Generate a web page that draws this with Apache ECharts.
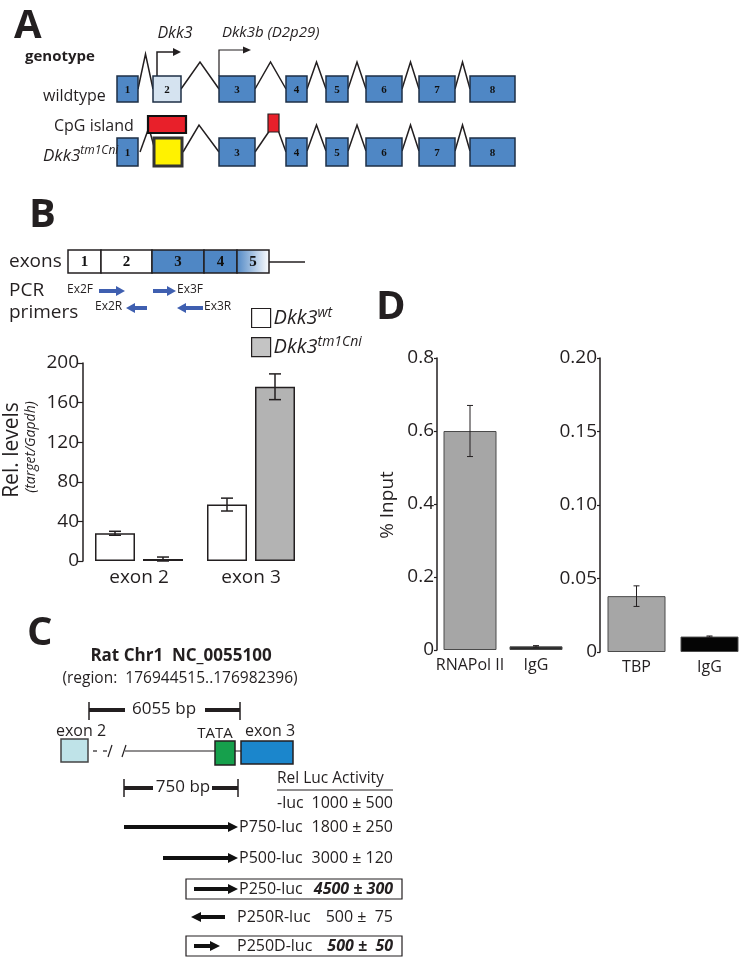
<!DOCTYPE html>
<html>
<head>
<meta charset="utf-8">
<script src="https://cdn.jsdelivr.net/npm/echarts@6/dist/echarts.min.js"></script>
<style>
  html, body { margin: 0; background: #fff; }
  #chart { width: 748px; height: 961px; }
</style>
</head>
<body>
<div id="chart"></div>
<script>
// ---- data ----
const exonCategories = ['exon 2', 'exon 3'];
const wtLevels = [28, 57];
const wtErr = [2, 6.5];
const tmLevels = [2, 176];
const tmErr = [2, 13];

const polCategories = ['RNAPol II', 'IgG'];
const polValues = [0.6, 0.01];
const polErr = [0.07, 0.002];

const tbpCategories = ['TBP', 'IgG'];
const tbpValues = [0.038, 0.0105];
const tbpErr = [0.007, 0.0004];

const geneExons = ['1', '2', '3', '4', '5', '6', '7', '8'];
const lucConstructs = ['-luc', 'P750-luc', 'P500-luc', 'P250-luc', 'P250R-luc', 'P250D-luc'];
const lucActivity = [1000, 1800, 3000, 4500, 500, 500];
const lucSd = [500, 250, 120, 300, 75, 50];

// ---- styles ----
const FONT = '"Open Sans", "Noto Sans", sans-serif';
const SERIF = '"Liberation Serif", "DejaVu Serif", serif';
const ink = '#231f20';
const exonBlue = '#4f87c5';
const exonEdge = '#1e2f45';
const primerBlue = '#3f5fb0';

const myChart = echarts.init(document.getElementById('chart'));
const g = [];

function txt(x, y, text, style, rotation) {
  g.push({
    type: 'text', x: x, y: y, rotation: rotation || 0, z: 20,
    style: Object.assign({ text: text, fontFamily: FONT, fontSize: 16, fill: ink, align: 'left', verticalAlign: 'middle' }, style || {})
  });
}
function box(x, y, w, h, fill, stroke, lw) {
  g.push({ type: 'rect', z: 12, shape: { x: x, y: y, width: w, height: h }, style: { fill: fill, stroke: stroke || ink, lineWidth: lw || 1.5 } });
}
function line(points, lw, color) {
  g.push({ type: 'polyline', z: 10, shape: { points: points }, style: { stroke: color || ink, lineWidth: lw || 1.5, fill: null } });
}
// horizontal arrow from x1 to x2 (head at x2)
function arrow(x1, x2, y, color, shaft, headL, headH) {
  const dir = x2 > x1 ? 1 : -1;
  const hb = x2 - dir * headL;
  g.push({ type: 'rect', z: 12, shape: { x: Math.min(x1, hb), y: y - shaft / 2, width: Math.abs(hb - x1), height: shaft }, style: { fill: color } });
  g.push({ type: 'polygon', z: 12, shape: { points: [[hb, y - headH / 2], [x2, y], [hb, y + headH / 2]] }, style: { fill: color } });
}
const sup = {
  i: { fontFamily: FONT, fontStyle: 'italic', fontSize: 17, fill: ink, lineHeight: 22 },
  s: { fontFamily: FONT, fontStyle: 'italic', fontSize: 12, fill: ink, verticalAlign: 'top', lineHeight: 12 }
};

// ---- panel A: gene structure ----
txt(14, 27, 'A', { fontSize: 40, fontWeight: 'bold' });
txt(25, 57, 'genotype', { fontSize: 15, fontWeight: 'bold' });
txt(175, 33, 'Dkk3', { fontSize: 16, fontStyle: 'italic', align: 'center' });
txt(222, 33, 'Dkk3b (D2p29)', { fontSize: 15, fontStyle: 'italic' });
txt(43, 96, 'wildtype', { fontSize: 16 });
txt(54, 126, 'CpG island', { fontSize: 16 });
txt(43, 156, '{i|Dkk3}{s|tm1Cni}', { rich: sup });

const exonX = [[117, 138], [153, 181], [219, 255], [286, 307], [326, 348], [366, 402], [419, 455], [470, 515]];
const rows = [{ top: 76, h: 26 }, { top: 138, h: 28 }];
exonX.forEach((e, i) => {
  rows.forEach((r, ri) => {
    if (ri === 1 && i === 1) return;
    box(e[0], r.top, e[1] - e[0], r.h, (ri === 0 && i === 1) ? '#d5e3f0' : exonBlue, exonEdge, 1.5);
    txt((e[0] + e[1]) / 2, r.top + r.h / 2 + 1, geneExons[i], { fontFamily: SERIF, fontWeight: 'bold', fontSize: 11, fill: '#111', align: 'center' });
  });
});
// wildtype introns
for (let i = 0; i < 7; i++) {
  const a = exonX[i][1], b = exonX[i + 1][0];
  line([[a, 89], [(a + b) / 2, i === 0 ? 54 : 62], [b, 89]]);
}
// mutant introns
line([[140, 152], [148, 130]]);
line([[150, 132], [155, 150]]);
line([[183, 152], [199, 125], [219, 152]]);
line([[255, 152], [270, 130]]);
line([[278, 130], [286, 152]]);
for (let i = 3; i < 7; i++) {
  const a = exonX[i][1], b = exonX[i + 1][0];
  line([[a, 151], [(a + b) / 2, 125], [b, 151]]);
}
box(154, 138, 28, 28, '#fff200', '#333', 3);
box(148, 116, 38, 17, '#e8202a', '#111', 2.2);
box(268, 114, 11, 18, '#e8202a', '#222', 1.2);
// promoter arrows
line([[157, 76], [157, 52], [174, 52]], 1.5);
g.push({ type: 'polygon', z: 12, shape: { points: [[173, 48], [181, 52], [173, 56]] }, style: { fill: ink } });
line([[219, 76], [219, 50], [244, 50]], 1.2);
g.push({ type: 'polygon', z: 12, shape: { points: [[243, 46.5], [251, 50], [243, 53.5]] }, style: { fill: ink } });

// ---- panel B: transcript + primers ----
txt(29, 216, 'B', { fontSize: 40, fontWeight: 'bold' });
txt(9, 262, 'exons', { fontSize: 19 });
txt(9, 291, 'PCR', { fontSize: 19 });
txt(9, 313, 'primers', { fontSize: 19 });
const trX = [[68, 101], [101, 152], [152, 204], [204, 237], [237, 269]];
trX.forEach((e, i) => {
  let fill = i < 2 ? '#fff' : exonBlue;
  if (i === 4) fill = { type: 'linear', x: 0, y: 0, x2: 1, y2: 0, colorStops: [{ offset: 0, color: exonBlue }, { offset: 1, color: '#fff' }] };
  box(e[0], 250, e[1] - e[0], 23, fill, ink, 1.5);
  txt((e[0] + e[1]) / 2, 262, geneExons[i], { fontFamily: SERIF, fontWeight: 'bold', fontSize: 15, fill: '#111', align: 'center' });
});
line([[269, 262], [305, 262]], 1.5);
txt(67, 290, 'Ex2F', { fontSize: 12 });
arrow(99, 125, 291, primerBlue, 4, 9, 10);
txt(95, 307, 'Ex2R', { fontSize: 12 });
arrow(147, 126, 308, primerBlue, 4, 9, 10);
arrow(153, 176, 291, primerBlue, 4, 9, 10);
txt(177, 290, 'Ex3F', { fontSize: 12 });
arrow(203, 177, 308, primerBlue, 4, 9, 10);
txt(204, 307, 'Ex3R', { fontSize: 12 });
txt(12, 450, 'Rel. levels', { fontSize: 21, align: 'center' }, Math.PI / 2);
txt(31, 447, '(target/Gapdh)', { fontSize: 14, fontStyle: 'italic', align: 'center' }, Math.PI / 2);

// ---- panel C: promoter constructs ----
txt(27, 634, 'C', { fontSize: 40, fontWeight: 'bold' });
txt(181, 656, 'Rat Chr1  NC_0055100', { fontSize: 17, fontWeight: 'bold', align: 'center' });
txt(180, 679, '(region:  176944515..176982396)', { fontSize: 15.5, align: 'center' });
line([[89, 702], [89, 720]], 1.5);
line([[240, 702], [240, 720]], 1.5);
line([[89, 710], [125, 710]], 4);
line([[205, 710], [240, 710]], 4);
txt(164, 709, '6055 bp', { fontSize: 17, align: 'center' });
txt(56, 731, 'exon 2', { fontSize: 16 });
txt(215, 734, 'TATA', { fontSize: 15, align: 'center' });
txt(270, 731, 'exon 3', { fontSize: 16, align: 'center' });
box(61, 739, 27, 23, '#bfe3e8', '#444', 1.5);
line([[93, 751], [97, 751]], 1.2);
line([[103, 751], [107, 751]], 1.2);
line([[108, 757], [112, 745]], 1.2);
line([[122, 757], [126, 745]], 1.2);
line([[125, 751], [241, 751]], 1.2);
box(215, 741, 20, 24, '#16a04c', ink, 1.5);
box(241, 741, 52, 23, '#1b86cc', ink, 1.5);
line([[124, 779], [124, 797]], 1.5);
line([[238, 779], [238, 797]], 1.5);
line([[124, 788], [153, 788]], 4);
line([[212, 788], [238, 788]], 4);
txt(183, 787, '750 bp', { fontSize: 17, align: 'center' });
txt(277, 779, 'Rel Luc Activity', { fontSize: 15.5 });
line([[277, 790], [393, 790]], 1);
const lucY = [803, 827, 858, 889, 917, 946];
const lucArrow = [null, [124, 238], [163, 238], [194, 238], [225, 191], [194, 220]];
const lucBoxed = [false, false, false, true, false, true];
lucConstructs.forEach((name, i) => {
  const y = lucY[i];
  if (lucArrow[i]) arrow(lucArrow[i][0], lucArrow[i][1], y, '#111', 4, 10, 10);
  txt(i === 0 ? 277 : (i > 3 ? 237 : 239), y, name, { fontSize: 16 });
  const sd = lucSd[i] < 100 ? ' ' + lucSd[i] : String(lucSd[i]);
  txt(393, y, lucActivity[i] + ' ± ' + sd, { fontSize: 16, align: 'right', fontWeight: lucBoxed[i] ? 'bold' : 'normal', fontStyle: lucBoxed[i] ? 'italic' : 'normal' });
  if (lucBoxed[i]) g.push({ type: 'rect', z: 11, shape: { x: 186, y: y - 10, width: 216, height: 20 }, style: { fill: null, stroke: ink, lineWidth: 1.2 } });
});

// ---- panel D labels ----
txt(376, 308, 'D', { fontSize: 40, fontWeight: 'bold' });
txt(388, 505, '% Input', { fontSize: 19, align: 'center' }, Math.PI / 2);

// ---- charts ----
function errorSeries(xi, values, errs, offset, cap, lw) {
  return {
    type: 'custom', xAxisIndex: xi, yAxisIndex: xi, z: 6, silent: true,
    data: values.map((v, i) => [i, v, errs[i]]),
    renderItem: function (params, api) {
      const lo = api.coord([api.value(0), Math.max(0, api.value(1) - api.value(2))]);
      const hi = api.coord([api.value(0), api.value(1) + api.value(2)]);
      const x = lo[0] + offset;
      const st = { stroke: ink, lineWidth: lw };
      return {
        type: 'group', children: [
          { type: 'line', shape: { x1: x, y1: lo[1], x2: x, y2: hi[1] }, style: st },
          { type: 'line', shape: { x1: x - cap, y1: hi[1], x2: x + cap, y2: hi[1] }, style: st },
          { type: 'line', shape: { x1: x - cap, y1: lo[1], x2: x + cap, y2: lo[1] }, style: st }
        ]
      };
    }
  };
}
function yAxisBase(grid, max, interval, fmt, margin, tickLen) {
  return {
    gridIndex: grid, type: 'value', min: 0, max: max, interval: interval,
    axisLine: { show: true, lineStyle: { color: ink, width: 1.5 } },
    axisTick: { show: true, length: tickLen, lineStyle: { color: ink, width: 1.2 } },
    splitLine: { show: false },
    axisLabel: { fontSize: 19, color: ink, fontFamily: FONT, margin: margin, formatter: fmt }
  };
}
function xAxisBase(grid, data, size, margin) {
  return {
    gridIndex: grid, type: 'category', data: data,
    axisLine: { show: false }, axisTick: { show: false },
    axisLabel: { fontSize: size, color: ink, fontFamily: FONT, margin: margin, interval: 0 }
  };
}

const option = {
  backgroundColor: '#fff',
  animation: false,
  textStyle: { fontFamily: FONT },
  grid: [
    { left: 83, top: 363, width: 224, height: 198 },
    { left: 437, top: 358, width: 132, height: 292 },
    { left: 600, top: 358, width: 146, height: 294 }
  ],
  xAxis: [
    xAxisBase(0, exonCategories, 19, 7),
    xAxisBase(1, polCategories, 16, 7),
    xAxisBase(2, tbpCategories, 16, 7)
  ],
  yAxis: [
    yAxisBase(0, 200, 40, null, 4, 5),
    yAxisBase(1, 0.8, 0.2, v => v === 0 ? '0' : v.toFixed(1), 3, 3),
    yAxisBase(2, 0.2, 0.05, v => v === 0 ? '0' : v.toFixed(2), 3, 3)
  ],
  legend: {
    orient: 'vertical', left: 246, top: 301, itemWidth: 19, itemHeight: 19, itemGap: 7,
    selectedMode: false,
    data: [
      { name: 'Dkk3wt', icon: 'rect', itemStyle: { color: '#fff', borderColor: ink, borderWidth: 1.2 } },
      { name: 'Dkk3tm1Cni', icon: 'rect', itemStyle: { color: '#c4c4c4', borderColor: ink, borderWidth: 1.2 } }
    ],
    formatter: name => name === 'Dkk3wt' ? '{i|Dkk3}{s|wt}' : '{i|Dkk3}{s|tm1Cni}',
    textStyle: {
      padding: [0, 0, 0, -2],
      rich: {
        i: { fontFamily: FONT, fontStyle: 'italic', fontSize: 20, color: ink, lineHeight: 24 },
        s: { fontFamily: FONT, fontStyle: 'italic', fontSize: 14, color: ink, verticalAlign: 'top', lineHeight: 14 }
      }
    }
  },
  series: [
    { name: 'Dkk3wt', type: 'bar', xAxisIndex: 0, yAxisIndex: 0, data: wtLevels, barWidth: 40, barGap: '20%',
      itemStyle: { color: '#fff', borderColor: ink, borderWidth: 1.5 } },
    { name: 'Dkk3tm1Cni', type: 'bar', xAxisIndex: 0, yAxisIndex: 0, data: tmLevels, barWidth: 40, barGap: '20%',
      itemStyle: { color: '#b3b3b3', borderColor: ink, borderWidth: 1.5 } },
    errorSeries(0, wtLevels, wtErr, -24, 6, 1.5),
    errorSeries(0, tmLevels, tmErr, 24, 6, 1.5),
    { name: 'pol', type: 'bar', xAxisIndex: 1, yAxisIndex: 1, barWidth: 53,
      data: polValues.map((v, i) => ({ value: v, itemStyle: { color: i === 0 ? '#a6a6a6' : '#2a2a2a' } })),
      itemStyle: { borderColor: '#4a4a4a', borderWidth: 1 } },
    errorSeries(1, polValues, polErr, 0, 3, 1),
    { name: 'tbp', type: 'bar', xAxisIndex: 2, yAxisIndex: 2, barWidth: 58,
      data: tbpValues.map((v, i) => ({ value: v, itemStyle: { color: i === 0 ? '#a6a6a6' : '#050505' } })),
      itemStyle: { borderColor: '#4a4a4a', borderWidth: 1 } },
    errorSeries(2, tbpValues, tbpErr, 0, 3, 1)
  ],
  graphic: g
};
myChart.setOption(option);
</script>
</body>
</html>
